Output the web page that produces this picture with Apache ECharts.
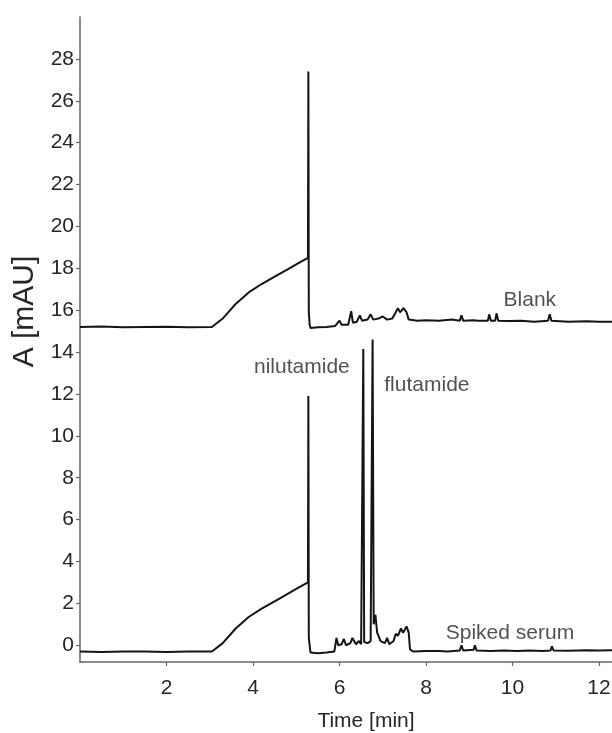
<!DOCTYPE html>
<html>
<head>
<meta charset="utf-8">
<title>Chromatograms: blank and spiked serum</title>
<script src="https://cdn.jsdelivr.net/npm/echarts@6/dist/echarts.min.js"></script>
<style>
  html, body { margin: 0; padding: 0; background: #fff; }
  #chart { width: 612px; height: 733px; }
</style>
</head>
<body>
<div id="chart"></div>
<script>
// Absorbance traces, [time (min), A (mAU)]
const blankTrace = [
  [0, 15.2], [0.5, 15.22], [1.0, 15.18], [1.5, 15.2], [2.0, 15.21], [2.5, 15.18], [3.05, 15.2],
  [3.3, 15.6], [3.6, 16.3], [3.9, 16.85], [4.2, 17.25], [4.5, 17.6], [4.8, 17.95], [5.05, 18.25], [5.27, 18.5],
  [5.28, 27.4], [5.29, 15.9], [5.31, 15.3], [5.33, 15.15], [5.5, 15.18], [5.7, 15.2], [5.9, 15.25],
  [6.0, 15.5], [6.05, 15.3], [6.2, 15.3], [6.27, 15.95], [6.31, 15.4], [6.4, 15.45], [6.47, 15.75],
  [6.52, 15.5], [6.65, 15.55], [6.72, 15.8], [6.78, 15.55], [6.9, 15.6], [7.0, 15.7], [7.1, 15.55],
  [7.22, 15.6], [7.3, 15.9], [7.35, 16.1], [7.4, 15.9], [7.48, 16.1], [7.55, 15.9], [7.6, 15.55],
  [7.8, 15.5], [8.0, 15.52], [8.3, 15.5], [8.6, 15.55], [8.78, 15.5], [8.82, 15.75], [8.86, 15.5],
  [9.1, 15.52], [9.2, 15.5], [9.43, 15.5], [9.46, 15.8], [9.5, 15.5], [9.6, 15.5], [9.63, 15.85],
  [9.67, 15.5], [9.9, 15.48], [10.2, 15.5], [10.5, 15.45], [10.82, 15.5], [10.86, 15.8], [10.9, 15.5],
  [11.3, 15.45], [11.7, 15.47], [12.0, 15.45], [12.3, 15.45]
];

const spikedTrace = [
  [0, -0.3], [0.5, -0.32], [1.0, -0.3], [1.5, -0.3], [2.0, -0.32], [2.5, -0.3], [3.05, -0.3],
  [3.3, 0.1], [3.6, 0.8], [3.9, 1.35], [4.2, 1.75], [4.5, 2.1], [4.8, 2.45], [5.05, 2.75], [5.27, 3.0],
  [5.28, 11.9], [5.29, 0.35], [5.31, 0.3], [5.33, -0.35], [5.5, -0.38], [5.7, -0.35], [5.88, -0.3],
  [5.93, 0.35], [5.97, 0.0], [6.05, 0.05], [6.1, 0.3], [6.15, 0.0], [6.25, 0.1], [6.3, 0.35],
  [6.38, 0.05], [6.45, 0.2], [6.5, 0.05], [6.53, 0.1], [6.55, 14.15], [6.57, 0.15], [6.65, 0.1],
  [6.72, 0.2], [6.765, 14.6], [6.79, 1.0], [6.83, 1.45], [6.87, 0.6], [6.95, 0.2], [7.05, 0.1],
  [7.1, 0.35], [7.15, 0.05], [7.25, 0.2], [7.3, 0.55], [7.35, 0.45], [7.42, 0.8], [7.47, 0.6],
  [7.55, 0.9], [7.6, 0.6], [7.63, -0.2], [7.7, -0.3], [8.0, -0.28], [8.3, -0.27], [8.5, -0.3],
  [8.78, -0.25], [8.82, 0.0], [8.86, -0.25], [9.1, -0.22], [9.13, 0.0], [9.17, -0.25], [9.5, -0.28],
  [9.8, -0.25], [10.1, -0.28], [10.4, -0.25], [10.7, -0.27], [10.88, -0.25], [10.91, -0.05],
  [10.95, -0.25], [11.3, -0.26], [11.7, -0.24], [12.0, -0.25], [12.3, -0.24]
];

// Tick values shown on each axis
const timeTicks = [2, 4, 6, 8, 10, 12];
const absTicks = [0, 2, 4, 6, 8, 10, 12, 14, 16, 18, 20, 22, 24, 26, 28];

// Text annotations placed in data space: [time, A, text]
const annotations = [
  [10.4, 16.46, 'Blank'],
  [5.13, 13.26, 'nilutamide'],
  [8.02, 12.4, 'flutamide'],
  [9.94, 0.58, 'Spiked serum']
];

const font = '"Liberation Sans", Arial, Helvetica, sans-serif';
const axisColor = '#666';
const textColor = '#262626';

const chart = echarts.init(document.getElementById('chart'), null, { renderer: 'canvas' });

chart.setOption({
  backgroundColor: '#fff',
  animation: false,
  grid: { left: 80, right: 0, top: 17, bottom: 71, containLabel: false, outerBoundsMode: 'none' },
  xAxis: {
    type: 'value',
    min: 0,
    max: 12.3,
    name: 'Time [min]',
    nameLocation: 'middle',
    nameGap: 49,
    nameTextStyle: { fontFamily: font, fontSize: 21, color: textColor, padding: [0, 0, 0, 40] },
    axisLine: { show: true, onZero: false, lineStyle: { color: axisColor, width: 1.5 } },
    axisTick: { show: true, inside: false, length: 4, customValues: timeTicks, lineStyle: { color: axisColor, width: 1.2 } },
    axisLabel: { customValues: timeTicks, margin: 16, fontFamily: font, fontSize: 21, color: textColor },
    splitLine: { show: false }
  },
  yAxis: {
    type: 'value',
    min: -0.8,
    max: 30,
    name: 'A [mAU]',
    nameLocation: 'middle',
    nameGap: 32,
    nameRotate: 90,
    nameTextStyle: { fontFamily: font, fontSize: 30, color: textColor, padding: [0, 0, 0, 56] },
    axisLine: { show: true, onZero: false, lineStyle: { color: axisColor, width: 1.5 } },
    axisTick: { show: true, inside: false, length: 4, customValues: absTicks, lineStyle: { color: axisColor, width: 1.2 } },
    axisLabel: { customValues: absTicks, margin: 6, fontFamily: font, fontSize: 21, color: textColor },
    splitLine: { show: false }
  },
  series: [
    {
      name: 'Blank',
      type: 'line',
      data: blankTrace,
      showSymbol: false,
      lineStyle: { color: '#141414', width: 2 },
      z: 3
    },
    {
      name: 'Spiked serum',
      type: 'line',
      data: spikedTrace,
      showSymbol: false,
      lineStyle: { color: '#141414', width: 2 },
      z: 3
    },
    {
      name: 'labels',
      type: 'scatter',
      data: annotations.map(a => ({ value: [a[0], a[1]], name: a[2] })),
      symbolSize: 0,
      silent: true,
      label: {
        show: true,
        position: 'inside',
        formatter: p => p.name,
        fontFamily: font,
        fontSize: 21,
        color: textColor
      },
      z: 4
    }
  ]
});
</script>
</body>
</html>
